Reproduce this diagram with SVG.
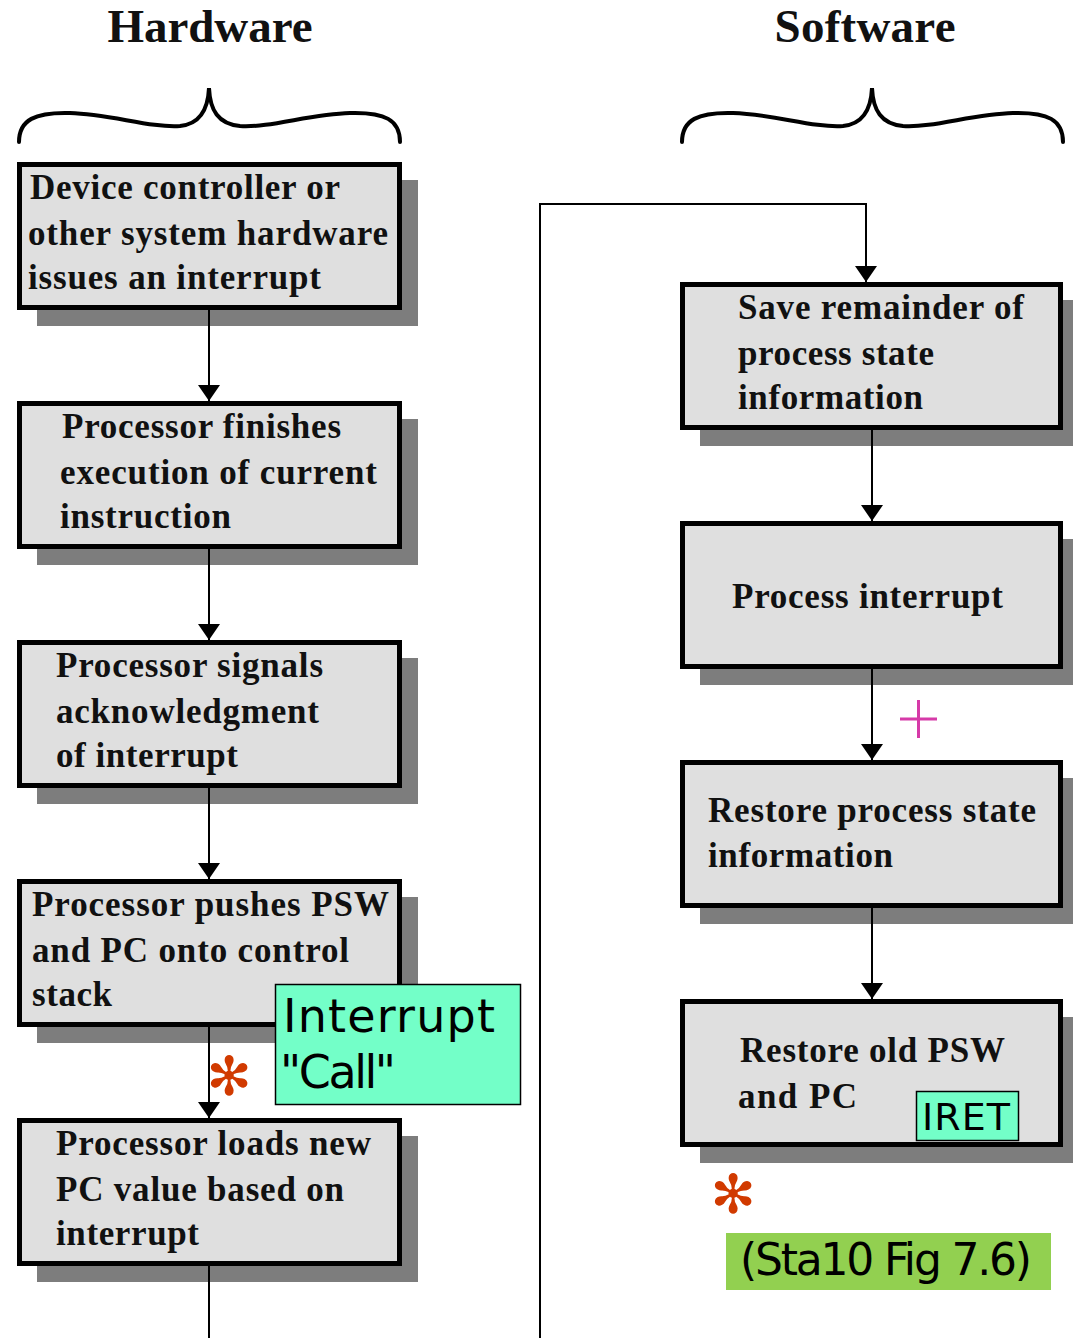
<svg xmlns="http://www.w3.org/2000/svg" width="1073" height="1338" viewBox="0 0 1073 1338">
<style>
.box{fill:#dfdfdf;stroke:#000;stroke-width:5}
.shadow{fill:#7d7d7d}
.t{font-family:"Liberation Serif","Times New Roman",serif;font-weight:bold;font-size:35px;fill:#111}
.hdr{font-family:"Liberation Serif","Times New Roman",serif;font-weight:bold;font-size:47px;fill:#111;text-anchor:middle}
.brace{fill:none;stroke:#000;stroke-width:4;stroke-linecap:round}
.conn{fill:none;stroke:#000;stroke-width:2}
.note{font-family:"DejaVu Sans","Liberation Sans",sans-serif;fill:#000}
.star{font-family:"DejaVu Sans",sans-serif;font-size:54px;fill:#d13a00;text-anchor:middle}
</style>
<defs>
<marker id="arr" viewBox="0 0 16 22" refX="16" refY="11" markerWidth="16" markerHeight="22" markerUnits="userSpaceOnUse" orient="auto">
<path d="M0,0 L16,11 L0,22 z" fill="#000"/>
</marker>
</defs>

<g id="headers">
<text class="hdr" x="210" y="42" textLength="205">Hardware</text>
<text class="hdr" x="865" y="42" textLength="181">Software</text>
<path class="brace" d="M19,142 C19,120 35,112 70,113 C110,114 150,128 180,126 C200,124 208,110 209,88 C210,110 218,124 240,126 C270,128 310,114 350,113 C385,112 400,120 400,142"/>
<path class="brace" d="M682,142 C682,120 698,112 733,113 C773,114 813,128 843,126 C863,124 871,110 872,88 C873,110 881,124 903,126 C933,128 973,114 1013,113 C1048,112 1063,120 1063,142"/>
</g>

<g id="hw1">
<rect class="shadow" x="37" y="180" width="381" height="146"/>
<rect class="box" x="19.5" y="164.5" width="380" height="143"/>
<text class="t" x="30" y="199" textLength="310">Device controller or</text>
<text class="t" x="28" y="245" textLength="360">other system hardware</text>
<text class="t" x="28" y="289" textLength="293">issues an interrupt</text>
</g>
<g id="hw2">
<rect class="shadow" x="37" y="419" width="381" height="146"/>
<rect class="box" x="19.5" y="403.5" width="380" height="143"/>
<text class="t" x="62" y="438" textLength="279">Processor finishes</text>
<text class="t" x="60" y="484" textLength="317">execution of current</text>
<text class="t" x="60" y="528" textLength="171">instruction</text>
</g>
<g id="hw3">
<rect class="shadow" x="37" y="658" width="381" height="146"/>
<rect class="box" x="19.5" y="642.5" width="380" height="143"/>
<text class="t" x="56" y="677" textLength="267">Processor signals</text>
<text class="t" x="56" y="723" textLength="263">acknowledgment</text>
<text class="t" x="56" y="767" textLength="182">of interrupt</text>
</g>
<g id="hw4">
<rect class="shadow" x="37" y="897" width="381" height="146"/>
<rect class="box" x="19.5" y="881.5" width="380" height="143"/>
<text class="t" x="32" y="916" textLength="357">Processor pushes PSW</text>
<text class="t" x="32" y="962" textLength="317">and PC onto control</text>
<text class="t" x="32" y="1006" textLength="80">stack</text>
</g>
<g id="hw5">
<rect class="shadow" x="37" y="1136" width="381" height="146"/>
<rect class="box" x="19.5" y="1120.5" width="380" height="143"/>
<text class="t" x="56" y="1155" textLength="315">Processor loads new</text>
<text class="t" x="56" y="1201" textLength="288">PC value based on</text>
<text class="t" x="56" y="1245" textLength="143">interrupt</text>
</g>

<g id="sw1">
<rect class="shadow" x="700" y="300" width="380" height="146"/>
<rect class="box" x="682.5" y="284.5" width="378" height="143"/>
<text class="t" x="738" y="319" textLength="286">Save remainder of</text>
<text class="t" x="738" y="365" textLength="196">process state</text>
<text class="t" x="738" y="409" textLength="185">information</text>
</g>
<g id="sw2">
<rect class="shadow" x="700" y="539" width="380" height="146"/>
<rect class="box" x="682.5" y="523.5" width="378" height="143"/>
<text class="t" x="732" y="608" textLength="271">Process interrupt</text>
</g>
<g id="sw3">
<rect class="shadow" x="700" y="778" width="380" height="146"/>
<rect class="box" x="682.5" y="762.5" width="378" height="143"/>
<text class="t" x="708" y="822" textLength="328">Restore process state</text>
<text class="t" x="708" y="867" textLength="185">information</text>
</g>
<g id="sw4">
<rect class="shadow" x="700" y="1017" width="380" height="146"/>
<rect class="box" x="682.5" y="1001.5" width="378" height="143"/>
<text class="t" x="740" y="1062" textLength="265">Restore old PSW</text>
<text class="t" x="738" y="1108" textLength="119">and PC</text>
</g>

<g id="connectors">
<path class="conn" d="M209,310 V401" marker-end="url(#arr)"/>
<path class="conn" d="M209,549 V640" marker-end="url(#arr)"/>
<path class="conn" d="M209,788 V879" marker-end="url(#arr)"/>
<path class="conn" d="M209,1027 V1118" marker-end="url(#arr)"/>
<path class="conn" d="M209,1266 V1338"/>
<path class="conn" d="M540,1338 V204 H866 V282" marker-end="url(#arr)"/>
<path class="conn" d="M872,429 V521" marker-end="url(#arr)"/>
<path class="conn" d="M872,668 V760" marker-end="url(#arr)"/>
<path class="conn" d="M872,907 V999" marker-end="url(#arr)"/>
</g>

<g id="call-label">
<rect x="275.5" y="984.5" width="245" height="120" fill="#73ffc8" stroke="#000" stroke-width="1.5"/>
<text class="note" x="283" y="1032" font-size="46" textLength="212">Interrupt</text>
<text class="note" x="280" y="1088" font-size="46" textLength="116">"Call"</text>
</g>
<g id="iret-label">
<rect x="916.5" y="1091.5" width="102" height="49" fill="#73ffc8" stroke="#000" stroke-width="1.5"/>
<text class="note" x="922" y="1130" font-size="38" textLength="88">IRET</text>
</g>
<g id="caption">
<rect x="726" y="1233" width="325" height="57" fill="#92d050"/>
<text class="note" x="740" y="1275" font-size="44" textLength="292">(Sta10 Fig 7.6)</text>
</g>
<g id="marks">
<text class="star" x="229" y="1095">✻</text>
<text class="star" x="733" y="1213">✻</text>
<path d="M900,719 H937 M918.5,700 V738" stroke="#d63aa8" stroke-width="3" fill="none"/>
</g>
</svg>
